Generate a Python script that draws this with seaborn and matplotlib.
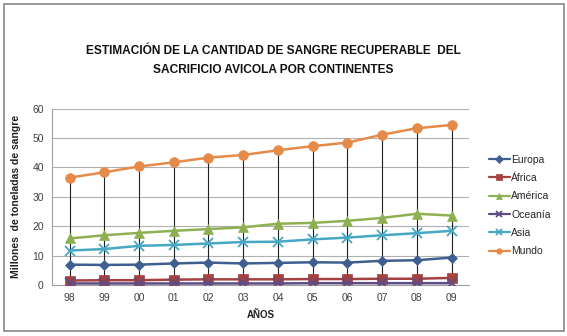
import matplotlib
matplotlib.use("Agg")
import matplotlib.pyplot as plt
import seaborn as sns
import pandas as pd
from matplotlib.patches import Rectangle

years = ["98", "99", "00", "01", "02", "03", "04", "05", "06", "07", "08", "09"]
europa = [6.9, 6.8, 6.9, 7.3, 7.6, 7.3, 7.5, 7.7, 7.6, 8.2, 8.4, 9.3]
africa = [1.5, 1.6, 1.6, 1.8, 1.9, 1.9, 1.9, 2.0, 2.0, 2.1, 2.1, 2.4]
america = [15.8, 16.9, 17.7, 18.4, 19.0, 19.6, 20.8, 21.1, 21.8, 22.8, 24.2, 23.6]
oceania = [0.5, 0.5, 0.5, 0.5, 0.5, 0.5, 0.5, 0.6, 0.6, 0.6, 0.6, 0.6]
asia = [11.7, 12.2, 13.3, 13.6, 14.1, 14.6, 14.7, 15.5, 16.1, 16.9, 17.6, 18.4]
mundo = [36.5, 38.3, 40.3, 41.7, 43.3, 44.2, 45.8, 47.2, 48.4, 51.1, 53.3, 54.4]

series = ["Europa", "África", "América", "Oceanía", "Asia", "Mundo"]
values = [europa, africa, america, oceania, asia, mundo]
colors = ["#3E5F8F", "#A5413E", "#8FB052", "#5E4C85", "#47A8C3", "#E58A48"]
markers = ["D", "s", "^", "x", "x", "o"]
msizes = [5, 7, 7, 7, 7, 7]

rows = []
for name, vals in zip(series, values):
    for i, (y, v) in enumerate(zip(years, vals)):
        rows.append({"pos": i, "year": y, "serie": name, "valor": v})
df = pd.DataFrame(rows)

sns.set_theme(style="white")
plt.rcParams["font.family"] = ["Liberation Sans", "DejaVu Sans"]

fig = plt.figure(figsize=(5.67, 3.36), dpi=100)
ax = fig.add_axes([0.092, 0.152, 0.735, 0.525])

# drop lines from the world total down to zero
x_pos = list(range(len(years)))
ax.vlines(x_pos, 0, mundo, color="#202020", lw=0.8, zorder=1)

for name, col, mk, ms in zip(series, colors, markers, msizes):
    sub = df[df["serie"] == name]
    sns.lineplot(data=sub, x="pos", y="valor", ax=ax, color=col, lw=1.8,
                 marker=mk, markersize=ms, markeredgecolor=col,
                 markeredgewidth=1.3 if mk == "x" else 0.5,
                 label=name, zorder=3)

ax.set_xlim(-0.5, len(years) - 0.5)
ax.set_ylim(0, 60)
ax.set_yticks(range(0, 61, 10))
ax.set_xticks(x_pos)
ax.set_xticklabels(years)
ax.tick_params(axis="both", labelsize=7.5, colors="#404040", length=0, pad=6)
ax.yaxis.grid(True, color="#B0B0B0", lw=0.8)
for s in ["top", "right"]:
    ax.spines[s].set_visible(False)
ax.spines["left"].set_color("#A0A0A0")
ax.spines["bottom"].set_color("#A0A0A0")
ax.spines["left"].set_linewidth(0.8)
ax.spines["bottom"].set_linewidth(0.8)

ax.set_xlabel("AÑOS", fontsize=7, fontweight="bold", color="#202020", labelpad=5)
ax.set_ylabel("Millones  de toneladas de sangre", fontsize=7.5, fontweight="bold",
              color="#202020", labelpad=8)

leg = ax.legend(loc="center left", bbox_to_anchor=(1.035, 0.45), frameon=False,
                fontsize=7.5, handlelength=2.0, labelspacing=0.8, handletextpad=0.15,
                borderpad=0)
for h in leg.legend_handles:
    h.set_linewidth(1.6)
    h.set_markersize(4)

fig.text(0.482, 0.82, "ESTIMACIÓN DE LA CANTIDAD DE SANGRE RECUPERABLE  DEL\nSACRIFICIO AVICOLA POR CONTINENTES",
         ha="center", va="center", fontsize=8.6, fontweight="bold", color="#111111",
         linespacing=1.75)

fig.patches.append(Rectangle((0.007, 0.014), 0.988, 0.973, transform=fig.transFigure,
                             fill=False, edgecolor="#888888", lw=1.2))

fig.savefig("out.png", dpi=100)
